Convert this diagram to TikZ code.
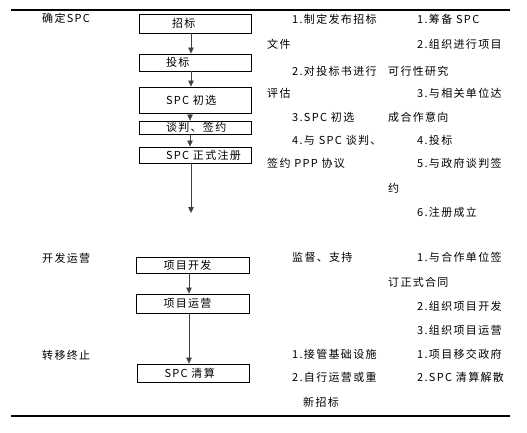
\documentclass[tikz,border=0pt]{standalone}
\usepackage{fontspec}
\usepackage{tikz}
\usetikzlibrary{arrows.meta}
\newfontfamily\cjk[LetterSpace=12]{Noto Sans CJK SC}
\newcommand{\boxtext}[1]{\makebox[58pt][l]{#1}}
\tikzset{
	stage/.style={draw, line width=0.9pt, minimum width=112pt, inner sep=0pt},
	note/.style={anchor=west, inner sep=0pt},
	flow/.style={draw=black!75, -{Triangle[length=6pt,width=5.5pt]}}
}
\begin{document}
\begin{tikzpicture}[x=1pt, y=-1pt, font=\cjk\fontsize{11}{12}\selectfont]
	\useasboundingbox (0,0) rectangle (527,432);
	\draw[line width=2pt] (11,10)--(510,10);
	\draw[line width=2pt] (11,416)--(510,416);
	% stages
	\node[note] (s1) at (42,18) {确定SPC};
	\node[note] (s2) at (42,258) {开发运营};
	\node[note] (s3) at (42,355) {转移终止};
	% flow boxes
	\node[stage, minimum height=19pt] (zb) at (195,23.5) {\boxtext{\hspace{6pt}招标}};
	\node[stage, minimum height=17pt] (tb) at (195,62.5) {\boxtext{投标}};
	\node[stage, minimum height=26pt] (cx) at (195,100) {\boxtext{SPC 初选}};
	\node[stage, minimum height=13pt] (tp) at (195,127.5) {\boxtext{谈判、签约}};
	\node[stage, minimum height=16pt] (zc) at (195,155) {\boxtext{SPC 正式注册}};
	\coordinate (end1) at (191,213);
	\node[stage, minimum height=16pt, minimum width=113pt] (kf) at (192.5,265) {\boxtext{项目开发}};
	\node[stage, minimum height=19pt, minimum width=113pt] (yy) at (192.5,303.5) {\boxtext{项目运营}};
	\node[stage, minimum height=18pt] (qs) at (193.5,373) {\boxtext{SPC 清算}};
	\draw[flow] ([xshift=-4pt]zb.south)--([xshift=-4pt]tb.north);
	\draw[flow] ([xshift=-4pt]tb.south)--([xshift=-4pt]cx.north);
	\draw[flow] ([xshift=-5pt]cx.south)--([xshift=-5pt]tp.north);
	\draw[flow] ([xshift=-5pt]tp.south)--([xshift=-5pt]zc.north);
	\draw[flow] (zc.south -| end1)--(end1);
	\draw[flow] ([xshift=-3.5pt]kf.south)--([xshift=-3.5pt]yy.north);
	\draw[flow] ([xshift=-3.5pt]yy.south)--([xshift=-4.5pt]qs.north);
	% third column
	\node[note] (c3a) at (292,19) {1.制定发布招标};
	\node[note] (c3b) at (267,44) {文件};
	\node[note] (c3c) at (292,71) {2.对投标书进行};
	\node[note] (c3d) at (267,93) {评估};
	\node[note] (c3e) at (292,117) {3.SPC 初选};
	\node[note] (c3f) at (292,140) {4.与 SPC 谈判、};
	\node[note] (c3g) at (267,163) {签约 PPP 协议};
	\node[note] (d3a) at (292,257) {监督、支持};
	\node[note] (e3a) at (292,354) {1.接管基础设施};
	\node[note] (e3b) at (292,377) {2.自行运营或重};
	\node[note] (e3c) at (303,402) {新招标};
	% fourth column
	\node[note] (c4a) at (417,19) {1.筹备 SPC};
	\node[note] (c4b) at (417,44) {2.组织进行项目};
	\node[note] (c4c) at (388,71) {可行性研究};
	\node[note] (c4d) at (417,93) {3.与相关单位达};
	\node[note] (c4e) at (388,117) {成合作意向};
	\node[note] (c4f) at (417,140) {4.投标};
	\node[note] (c4g) at (417,163) {5.与政府谈判签};
	\node[note] (c4h) at (388,188) {约};
	\node[note] (c4i) at (417,212) {6.注册成立};
	\node[note] (d4a) at (417,257) {1.与合作单位签};
	\node[note] (d4b) at (388,282) {订正式合同};
	\node[note] (d4c) at (417,306) {2.组织项目开发};
	\node[note] (d4d) at (417,330) {3.组织项目运营};
	\node[note] (e4a) at (417,354) {1.项目移交政府};
	\node[note] (e4b) at (417,377) {2.SPC 清算解散};
\end{tikzpicture}
\end{document}
